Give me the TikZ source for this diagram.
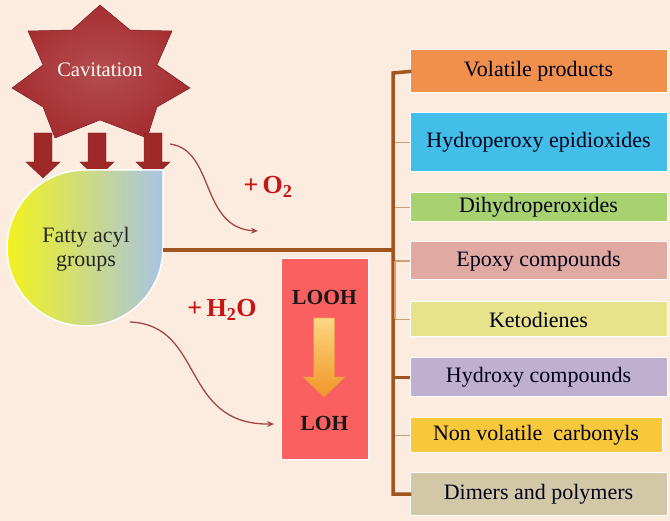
\documentclass[tikz,border=0pt]{standalone}
\usepackage{fontspec}
\setmainfont{Liberation Serif}
\usetikzlibrary{arrows.meta}
\definecolor{bgc}{RGB}{252,236,224}
\definecolor{starred}{RGB}{166,46,50}
\definecolor{arrred}{RGB}{158,40,40}
\definecolor{trunk}{RGB}{160,84,30}
\definecolor{thinor}{RGB}{236,150,90}
\definecolor{stub}{RGB}{205,160,125}
\definecolor{curvec}{RGB}{165,70,70}
\definecolor{plusred}{RGB}{200,20,20}
\definecolor{cVol}{RGB}{240,144,76}
\definecolor{cHyd}{RGB}{66,190,232}
\definecolor{cDih}{RGB}{168,210,112}
\definecolor{cEpo}{RGB}{224,170,162}
\definecolor{cKet}{RGB}{232,226,138}
\definecolor{cHox}{RGB}{192,176,208}
\definecolor{cNon}{RGB}{248,200,60}
\definecolor{cDim}{RGB}{210,200,168}
\definecolor{cLooh}{RGB}{250,96,96}
\tikzset{
  prodbox/.style={draw=white, line width=1pt, minimum width=257pt, inner sep=0pt, font=\fontsize{22}{24}\selectfont, text=black!90!blue},
  thickline/.style={draw=trunk, line width=3.5pt},
  thinstub/.style={draw=stub, line width=1.2pt},
  curvearr/.style={draw=curvec, line width=1.3pt, -{Stealth[length=7pt,width=6pt]}},
  plus/.style={text=plusred, font=\bfseries\fontsize{26}{28}\selectfont},
  blockarr/.style={fill=arrred, draw=arrred!80!black, line width=0.4pt}
}
\begin{document}
\begin{tikzpicture}[x=1pt,y=-1pt]
\fill[bgc] (0,0) rectangle (670,521);
\useasboundingbox (0,0) rectangle (670,521);

% star
\shade[inner color=starred!85!white, outer color=starred, draw=starred!70!black, line width=0.5pt]
  (100,5) -- (130,30) -- (172,31) -- (157,65) -- (190,88) -- (157,107) -- (147,138)
  -- (100,120) -- (55,138) -- (43,107) -- (12,88) -- (43,65) -- (28,31) -- (72,30) -- cycle;
\node[text=white!95!yellow, font=\fontsize{20.5}{22}\selectfont] (cav) at (100,70) {Cavitation};

% block arrows from star
\foreach \cx in {43,97,153}{
  \path[blockarr] (\cx-9,133) -- (\cx+9,133) -- (\cx+9,162) -- (\cx+17,162) -- (\cx,178)
     -- (\cx-17,162) -- (\cx-9,162) -- cycle;
}

% fatty acyl teardrop
\shade[left color={rgb,255:red,242;green,242;blue,30}, middle color={rgb,255:red,196;green,214;blue,150}, right color={rgb,255:red,168;green,196;blue,228}, draw=white, line width=1.5pt]
  (85,170) -- (163,170) -- (163,248) arc[start angle=0, end angle=270, radius=78] -- cycle;
\node[align=center, font=\fontsize{22}{24}\selectfont, text=black!85] (fatty) at (86,249) {Fatty acyl\\groups};
\coordinate (fattyR) at (163,250);

% product boxes
\node[prodbox, fill=cVol, minimum height=43pt] (vol) at (538.5,71.5) {Volatile products};
\node[prodbox, fill=cHyd, minimum height=59pt] (hyd) at (538.5,142.5) {Hydroperoxy epidioxides};
\node[prodbox, fill=cDih, minimum height=29pt] (dih) at (538.5,207.5) {Dihydroperoxides};
\node[prodbox, fill=cEpo, minimum height=38pt] (epo) at (538.5,261) {Epoxy compounds};
\node[prodbox, fill=cKet, minimum height=35pt] (ket) at (538.5,319.5) {Ketodienes};
\node[prodbox, fill=cHox, minimum height=39pt] (hox) at (538.5,377.5) {Hydroxy compounds};
\node[prodbox, fill=cNon, minimum height=35pt, minimum width=252pt] (non) at (536,435.5) {Non volatile\ \ carbonyls};
\node[prodbox, fill=cDim, minimum height=42pt] (dim) at (538.5,494) {Dimers and polymers};

% trunk coordinates
\coordinate (tTop) at (393,73);
\coordinate (tBot) at (393,494);
\coordinate (tMid) at (393,250);

% thin stubs
\foreach \b in {hyd,dih}{ \draw[thinstub] (393,0 |- \b.west) -- (\b.west); }
\draw[thinstub] (395,0 |- epo.west) -- (epo.west);
\draw[thinstub] (395,0 |- ket.west) -- (ket.west);
\draw[thinstub] (393,0 |- non.west) -- (non.west);

% thick trunk
\draw[thickline, line cap=rect] (vol.west) -- (tTop) -- (tBot) -- (dim.west);
\draw[thickline] (tTop |- hox.west) -- (hox.west);
\draw[thickline] (fattyR) -- (tMid);
\draw[draw=thinor, line width=1.2pt] (395,0 |- epo.west) -- (395,0 |- ket.west);

% LOOH box
\node[draw=white, line width=1pt, fill=cLooh, minimum width=87pt, minimum height=201pt] (looh) at (324.5,359.5) {};
\node[font=\bfseries\fontsize{21.5}{23}\selectfont, text=black!90] (loohT) at (324.5,297) {LOOH};
\node[font=\bfseries\fontsize{21.5}{23}\selectfont, text=black!90] (lohT) at (324.5,423) {LOH};
\shade[top color={rgb,255:red,253;green,214;blue,130}, bottom color={rgb,255:red,240;green,150;blue,40}, draw={rgb,255:red,230;green,150;blue,60}, line width=0.4pt]
  (313.5,318) -- (334.5,318) -- (334.5,377) -- (345,377) -- (324,397) -- (303,377) -- (313.5,377) -- cycle;

% plus labels
\node[plus] (o2) at (268,187) {+\,O\textsubscript{2}};
\node[plus] (h2o) at (222,310) {+\,H\textsubscript{2}O};

% curved arrows
\coordinate (c1s) at (170,144);
\coordinate (c1e) at (258,231);
\coordinate (c2s) at (130,322);
\coordinate (c2e) at (274,424);
\draw[curvearr] (c1s) .. controls (215,150) and (200,228) .. (c1e);
\draw[curvearr] (c2s) .. controls (205,325) and (180,425) .. (c2e);
\end{tikzpicture}
\end{document}
